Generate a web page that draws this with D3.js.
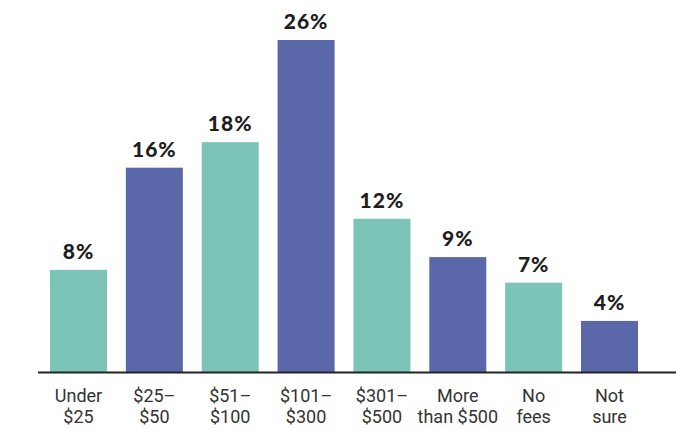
<!DOCTYPE html>
<html><head><meta charset="utf-8">
<script src="https://cdn.jsdelivr.net/npm/d3@7"></script>
<style>body{margin:0;background:#fff}</style>
</head><body>
<svg id="c" width="680" height="429"></svg>
<script>
const categories = [["Under","$25"],["$25–","$50"],["$51–","$100"],["$101–","$300"],["$301–","$500"],["More","than $500"],["No","fees"],["Not","sure"]];
const values = [8,16,18,26,12,9,7,4];
const colors = ["#7cc4b8","#5a67a8"];

const svg = d3.select("#c");
const baseY = 372;
const x = d3.scaleBand().domain(d3.range(categories.length)).range([40.57, 647.45]).paddingInner(0.2486).paddingOuter(0.1243);
const y = d3.scaleLinear().domain([0, 26]).range([baseY, 40]);

svg.selectAll("rect.bar").data(values).join("rect")
  .attr("x", (d,i)=>x(i)).attr("width", x.bandwidth())
  .attr("y", d=>y(d)).attr("height", d=>baseY - y(d))
  .attr("fill", (d,i)=>colors[i%2]);

svg.selectAll("text.val").data(values).join("text")
  .attr("x", (d,i)=>x(i)+x.bandwidth()/2).attr("y", d=>y(d)-11)
  .attr("text-anchor","middle")
  .style("font-family","Lato, 'Open Sans', sans-serif").style("font-weight","900")
  .style("font-size","21px").style("letter-spacing","1px").attr("fill","#1e1e1e")
  .text(d=>d+"%");

svg.append("line").attr("x1",38).attr("x2",676).attr("y1",baseY+0.5).attr("y2",baseY+0.5)
  .attr("stroke","#222").attr("stroke-width",2);

categories.forEach((d,i)=>{
  d.forEach((line,j)=>{
    svg.append("text")
      .attr("x", x(i)+x.bandwidth()/2).attr("y", 402 + j*21)
      .attr("text-anchor","middle")
      .style("font-family","Roboto, sans-serif")
      .style("font-size","18px").attr("fill","#333")
      .text(line);
  });
});
</script>
</body></html>
